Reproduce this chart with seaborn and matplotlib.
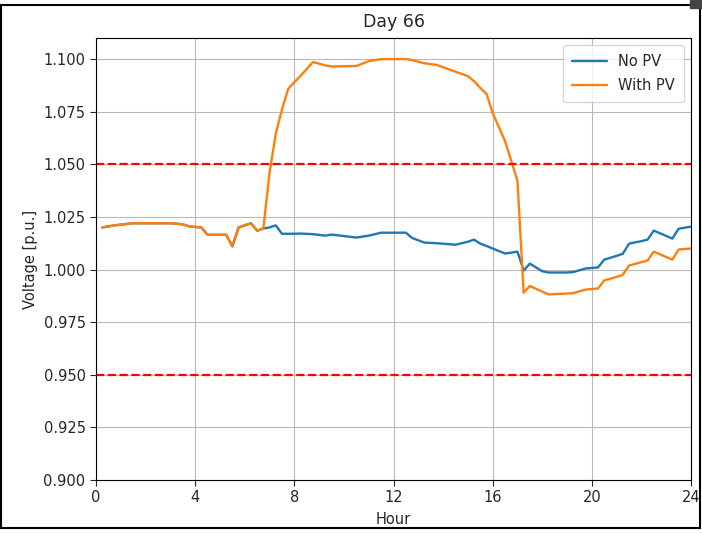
import matplotlib
matplotlib.use("Agg")
import matplotlib.pyplot as plt
from matplotlib.patches import Rectangle
import pandas as pd
import seaborn as sns

# lecture des valeurs sur l'image (heures, tension en p.u.)
hours = [0.25, 0.75, 1.5, 2.25, 3.0, 3.5, 3.75, 4.25, 4.5, 5.0,
         5.25, 5.5, 5.75, 6.25, 6.5, 6.75, 7.0, 7.25, 7.5, 7.75,
         8.0, 8.25, 8.75, 9.25, 9.5, 10.5, 11.0, 11.5, 12.0, 12.5,
         12.75, 13.25, 13.75, 14.5, 15.0, 15.25, 15.5, 15.75, 16.0, 16.5,
         17.0, 17.25, 17.5, 18.0, 18.25, 19.0, 19.25, 19.75, 20.25, 20.5,
         21.0, 21.25, 21.5, 22.0, 22.25, 22.5, 23.25, 23.5, 24.0]

no_pv = [1.020, 1.021, 1.022, 1.022, 1.022, 1.0215, 1.0205, 1.0200, 1.0165, 1.0165,
         1.0165, 1.0110, 1.0200, 1.0220, 1.0185, 1.0195, 1.0200, 1.0210, 1.0170, 1.0170,
         1.0170, 1.0171, 1.0168, 1.0161, 1.0166, 1.0152, 1.0161, 1.0175, 1.0175, 1.0175,
         1.0150, 1.0128, 1.0125, 1.0118, 1.0132, 1.0142, 1.0123, 1.0112, 1.0100, 1.0076,
         1.0085, 0.9995, 1.0028, 0.9992, 0.9986, 0.9986, 0.9988, 1.0005, 1.0010, 1.0047,
         1.0065, 1.0075, 1.0123, 1.0135, 1.0142, 1.0185, 1.0147, 1.0194, 1.0204]

with_pv = [1.020, 1.021, 1.022, 1.022, 1.022, 1.0215, 1.0205, 1.0200, 1.0165, 1.0165,
           1.0165, 1.0110, 1.0200, 1.0220, 1.0185, 1.0195, 1.0460, 1.0645, 1.0760, 1.0858,
           1.0890, 1.0920, 1.0986, 1.0970, 1.0965, 1.0967, 1.0990, 1.1000, 1.1000, 1.1000,
           1.0995, 1.0980, 1.0972, 1.0940, 1.0919, 1.0895, 1.0863, 1.0835, 1.0744, 1.0610,
           1.0422, 0.9890, 0.9922, 0.9895, 0.9882, 0.9886, 0.9888, 0.9905, 0.9910, 0.9948,
           0.9965, 0.9975, 1.0019, 1.0035, 1.0043, 1.0085, 1.0047, 1.0095, 1.0100]

limits = [1.05, 0.95]

df = pd.DataFrame({
    "Hour": hours * 2,
    "Voltage": no_pv + with_pv,
    "Case": ["No PV"] * len(hours) + ["With PV"] * len(hours),
})

sns.set_style("ticks", {"axes.grid": True, "grid.color": "#b8b8b8",
                        "axes.edgecolor": "black"})
plt.rcParams["font.family"] = ["DejaVu Sans"]

fig = plt.figure(figsize=(7.02, 5.34), dpi=100)
ax = fig.add_axes([0.1368, 0.1011, 0.8475, 0.8277])

sns.lineplot(data=df, x="Hour", y="Voltage", hue="Case",
             palette=["#1f77b4", "#ff7f0e"], linewidth=1.7, ax=ax)
for v in limits:
    ax.axhline(v, color="red", linestyle="--", linewidth=1.6)

ax.set_xlim(0, 24)
ax.set_ylim(0.9, 1.11)
ax.set_xticks([0, 4, 8, 12, 16, 20, 24])
ax.set_yticks([0.900, 0.925, 0.950, 0.975, 1.000, 1.025, 1.050, 1.075, 1.100])
ax.yaxis.set_major_formatter(matplotlib.ticker.FormatStrFormatter("%.3f"))
ax.tick_params(direction="out", length=4, labelsize=10.5)
ax.set_xlabel("Hour", fontsize=10.5, labelpad=5)
ax.set_ylabel("Voltage [p.u.]", fontsize=10.5)
ax.set_title("Day 66", fontsize=12.5, pad=8)
ax.legend(loc="upper right", title=None, fontsize=10.5, handlelength=2.4,
          borderpad=0.6, labelspacing=0.6)

# cadre de la capture d'écran
fig.patches.append(Rectangle((0.002, 0.012), 0.995, 0.978, transform=fig.transFigure,
                             fill=False, edgecolor="black", linewidth=1.5))
fig.patches.append(Rectangle((0.983, 0.985), 0.017, 0.015, transform=fig.transFigure,
                             color="#444444"))

fig.savefig("out.png", dpi=100)
